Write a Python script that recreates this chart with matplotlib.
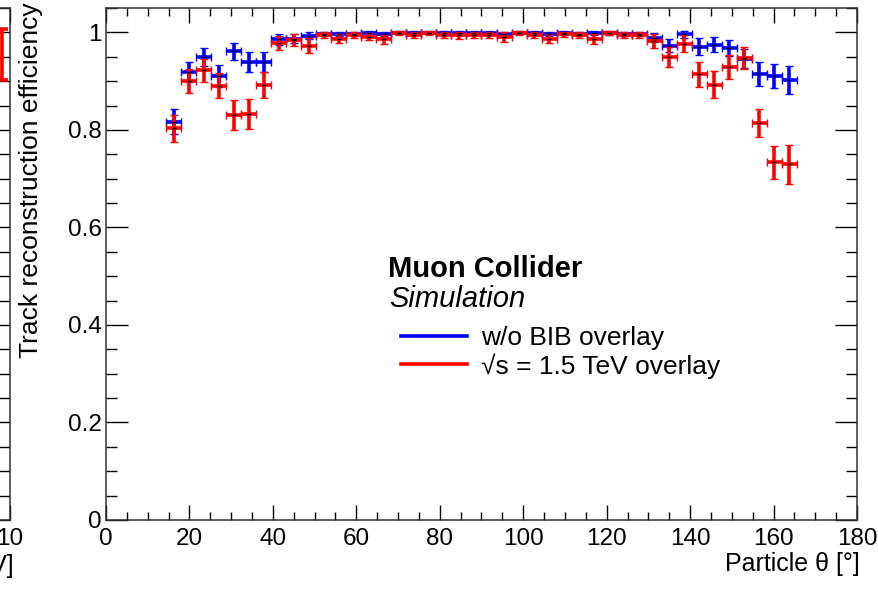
#!/usr/bin/env python
# Track reconstruction efficiency vs particle theta, with and without BIB overlay

import matplotlib
matplotlib.use('Agg')
import matplotlib.pyplot as plt
from matplotlib.lines import Line2D
from matplotlib.ticker import MultipleLocator

plt.rcParams['font.family'] = ['Liberation Sans', 'DejaVu Sans']

#-----
# Data
#-----
theta = [16.2, 19.8, 23.4, 27.0, 30.6, 34.2, 37.8, 41.4, 45.0, 48.6,
         52.2, 55.8, 59.4, 63.0, 66.6, 70.2, 73.8, 77.4, 81.0, 84.6,
         88.2, 91.8, 95.4, 99.0, 102.6, 106.2, 109.8, 113.4, 117.0, 120.6,
         124.2, 127.8, 131.4, 135.0, 138.6, 142.2, 145.8, 149.4, 153.0, 156.6,
         160.2, 163.8]
bin_half_width = 1.8

eff_nobib = [0.817, 0.919, 0.949, 0.911, 0.961, 0.939, 0.939, 0.986, 0.987, 0.993,
             0.997, 0.997, 0.997, 0.998, 0.997, 0.999, 0.998, 0.999, 0.998, 0.998,
             0.998, 0.998, 0.997, 0.999, 0.998, 0.997, 0.998, 0.997, 0.998, 0.998,
             0.997, 0.997, 0.989, 0.973, 0.996, 0.971, 0.975, 0.968, 0.946, 0.915,
             0.910, 0.903]
err_nobib = [0.025, 0.021, 0.018, 0.022, 0.018, 0.020, 0.020, 0.011, 0.009, 0.007,
             0.004, 0.004, 0.004, 0.004, 0.004, 0.003, 0.004, 0.003, 0.004, 0.004,
             0.004, 0.004, 0.004, 0.003, 0.004, 0.004, 0.004, 0.004, 0.004, 0.004,
             0.004, 0.004, 0.009, 0.013, 0.007, 0.018, 0.016, 0.017, 0.020, 0.024,
             0.025, 0.029]

eff_bib = [0.803, 0.900, 0.922, 0.891, 0.830, 0.833, 0.892, 0.978, 0.985, 0.973,
           0.994, 0.987, 0.994, 0.991, 0.986, 0.999, 0.994, 0.999, 0.995, 0.994,
           0.994, 0.994, 0.991, 0.999, 0.994, 0.987, 0.996, 0.995, 0.987, 0.998,
           0.994, 0.995, 0.982, 0.949, 0.977, 0.914, 0.893, 0.929, 0.947, 0.814,
           0.734, 0.730]
err_bib = [0.027, 0.025, 0.023, 0.026, 0.031, 0.031, 0.026, 0.014, 0.012, 0.015,
           0.006, 0.009, 0.006, 0.007, 0.009, 0.004, 0.006, 0.004, 0.006, 0.007,
           0.006, 0.006, 0.010, 0.004, 0.006, 0.009, 0.005, 0.006, 0.010, 0.004,
           0.006, 0.006, 0.015, 0.020, 0.017, 0.026, 0.028, 0.024, 0.022, 0.029,
           0.034, 0.040]

# last point of the neighbouring (cropped) panel
left_x = [9.9]
left_eff = [0.954]
left_err = [0.052]

W, H = 879, 592
fig = plt.figure(figsize=(W/100., H/100.), dpi=100)

def px_axes(x0, y0, x1, y1):
    # pixel box (top-left origin) -> figure fractions
    return fig.add_axes([x0/W, 1-y1/H, (x1-x0)/W, (y1-y0)/H])

def root_style(ax):
    ax.tick_params(which='both', direction='in', top=True, right=True,
                   width=1, colors='black', labelsize=17.5)
    ax.tick_params(axis='x', which='major', length=11, pad=6)
    ax.tick_params(axis='x', which='minor', length=5.5)
    ax.tick_params(axis='y', which='major', length=16, pad=3)
    ax.tick_params(axis='y', which='minor', length=8)
    for s in ax.spines.values():
        s.set_linewidth(1.1)
        s.set_color('#333333')

#---------------------------
# neighbouring panel (cut off)
#---------------------------
axl = px_axes(10-751, 8, 10, 520)
axl.errorbar(left_x, left_eff, yerr=left_err, fmt='none', ecolor='red',
             elinewidth=2.6, capsize=4, capthick=2.6)
axl.set_xlim(0, 10)
axl.set_ylim(0, 1.05)
axl.set_xticks([10], ['10'])
axl.xaxis.set_minor_locator(MultipleLocator(1))
axl.yaxis.set_major_locator(MultipleLocator(0.2))
axl.yaxis.set_minor_locator(MultipleLocator(0.05))
root_style(axl)
axl.tick_params(axis='y', labelleft=False)
axl.set_xlabel('[GeV]', fontsize=18, loc='right')
axl.xaxis.set_label_coords(1 + 4/751., -0.066)

#-----------
# main panel
#-----------
ax = px_axes(106, 8, 857, 520)
ax.errorbar(theta, eff_nobib, xerr=bin_half_width, yerr=err_nobib, fmt='_',
            color='black', ms=3, mew=1, ecolor='blue', elinewidth=2.6,
            capsize=3, capthick=2.6)
ax.errorbar(theta, eff_bib, xerr=bin_half_width, yerr=err_bib, fmt='_',
            color='black', ms=3, mew=1, ecolor='red', elinewidth=2.6,
            capsize=3, capthick=2.6)

ax.set_xlim(0, 180)
ax.set_ylim(0, 1.05)
ax.xaxis.set_major_locator(MultipleLocator(20))
ax.xaxis.set_minor_locator(MultipleLocator(5))
ax.yaxis.set_minor_locator(MultipleLocator(0.05))
ax.set_yticks([0, 0.2, 0.4, 0.6, 0.8, 1.0], ['0', '0.2', '0.4', '0.6', '0.8', '1'])
root_style(ax)

fig.text(31/W, 1-2/H, 'Track reconstruction efficiency', rotation=90,
         ha='center', va='top', fontsize=19)
fig.text(860/W, 1-564/H, 'Particle \u03b8 [\u00b0]', ha='right', va='center',
         fontsize=18)

ax.text(0.3755, 0.4746, 'Muon Collider', transform=ax.transAxes,
        fontsize=21, fontweight='bold', va='baseline')
ax.text(0.3775, 0.4166, 'Simulation', transform=ax.transAxes,
        fontsize=21, style='italic', va='baseline')

handles = [Line2D([], [], color='blue', lw=2.6),
           Line2D([], [], color='red', lw=2.6)]
ax.legend(handles, ['w/o BIB overlay', '\u221as = 1.5 TeV overlay'],
          loc='upper left', bbox_to_anchor=(401/W, 1-326/H),
          bbox_transform=fig.transFigure, frameon=False, fontsize=19,
          borderpad=0, borderaxespad=0, handlelength=2.5,
          handletextpad=0.55, labelspacing=0.12)

fig.savefig('out.png', dpi=100)
